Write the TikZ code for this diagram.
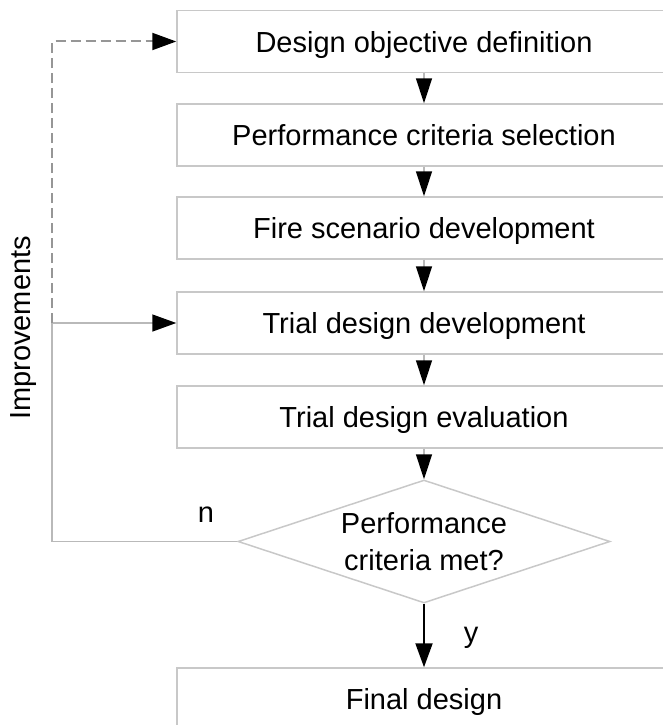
\documentclass[tikz,border=0pt]{standalone}
\usepackage{fontspec}
\setmainfont{Liberation Sans}
\usetikzlibrary{arrows.meta,shapes.geometric}

\definecolor{boxline}{RGB}{200,200,200}
\definecolor{loopline}{RGB}{185,185,185}
\definecolor{dashline}{RGB}{150,150,150}

\tikzset{
  stepbox/.style={draw=boxline, line width=1.5pt, minimum width=494pt,
    minimum height=62pt, inner sep=0pt, text depth=-4pt,
    font=\fontsize{29pt}{36pt}\selectfont},
  decision/.style={diamond, draw=boxline, line width=1.5pt, aspect=3.02,
    minimum width=372pt, minimum height=123pt, inner sep=0pt, align=center,
    font=\fontsize{29pt}{37pt}\selectfont},
  flow/.style={loopline, line width=1.5pt, -{Triangle[length=25pt,width=16pt,black]}},
  feed/.style={loopline, line width=1.5pt},
  feedtip/.style={-{Triangle[length=24pt,width=17pt,black]}},
  lbl/.style={font=\fontsize{29pt}{36pt}\selectfont, inner sep=0pt}
}

\begin{document}
\begin{tikzpicture}[x=1pt,y=-1pt]
  \useasboundingbox (0,0) rectangle (662,725);

  % process steps
  \node[stepbox] (b1) at (424,41.5) {Design objective definition};
  \node[stepbox] (b2) at (424,135)  {Performance criteria selection};
  \node[stepbox] (b3) at (424,228)  {Fire scenario development};
  \node[stepbox] (b4) at (424,323)  {Trial design development};
  \node[stepbox] (b5) at (424,417)  {Trial design evaluation};
  \node[decision] (d)  at (424,541.5) {Performance\\criteria met?};
  \node[stepbox] (b6) at (424,699)  {Final design};

  % main flow
  \draw[flow] (b1.south) -- (b2.north);
  \draw[flow] (b2.south) -- (b3.north);
  \draw[flow] (b3.south) -- (b4.north);
  \draw[flow] (b4.south) -- (b5.north);
  \draw[flow] (b5.south) -- (d.north);
  \draw[black, line width=2pt, -{Triangle[length=24pt,width=17pt]}]
    (d.south) -- (b6.north);

  % improvement loop
  \coordinate (cn) at (52,541.5);
  \coordinate (c4) at (52,323);
  \coordinate (c1) at (52,41.5);
  \draw[feed] (d.west) -- (cn) -- (c4);
  \draw[feed, feedtip] (c4) -- (b4.west);
  \draw[dashline, line width=2pt, dash pattern=on 10pt off 5pt, feedtip]
    (c4) -- (c1) -- (b1.west);

  % labels
  \node[lbl, rotate=90] (imp) at (24,328) {Improvements};
  \node[lbl] (nlab) at (206,515) {n};
  \node[lbl] (ylab) at (471,638) {y};
\end{tikzpicture}
\end{document}
